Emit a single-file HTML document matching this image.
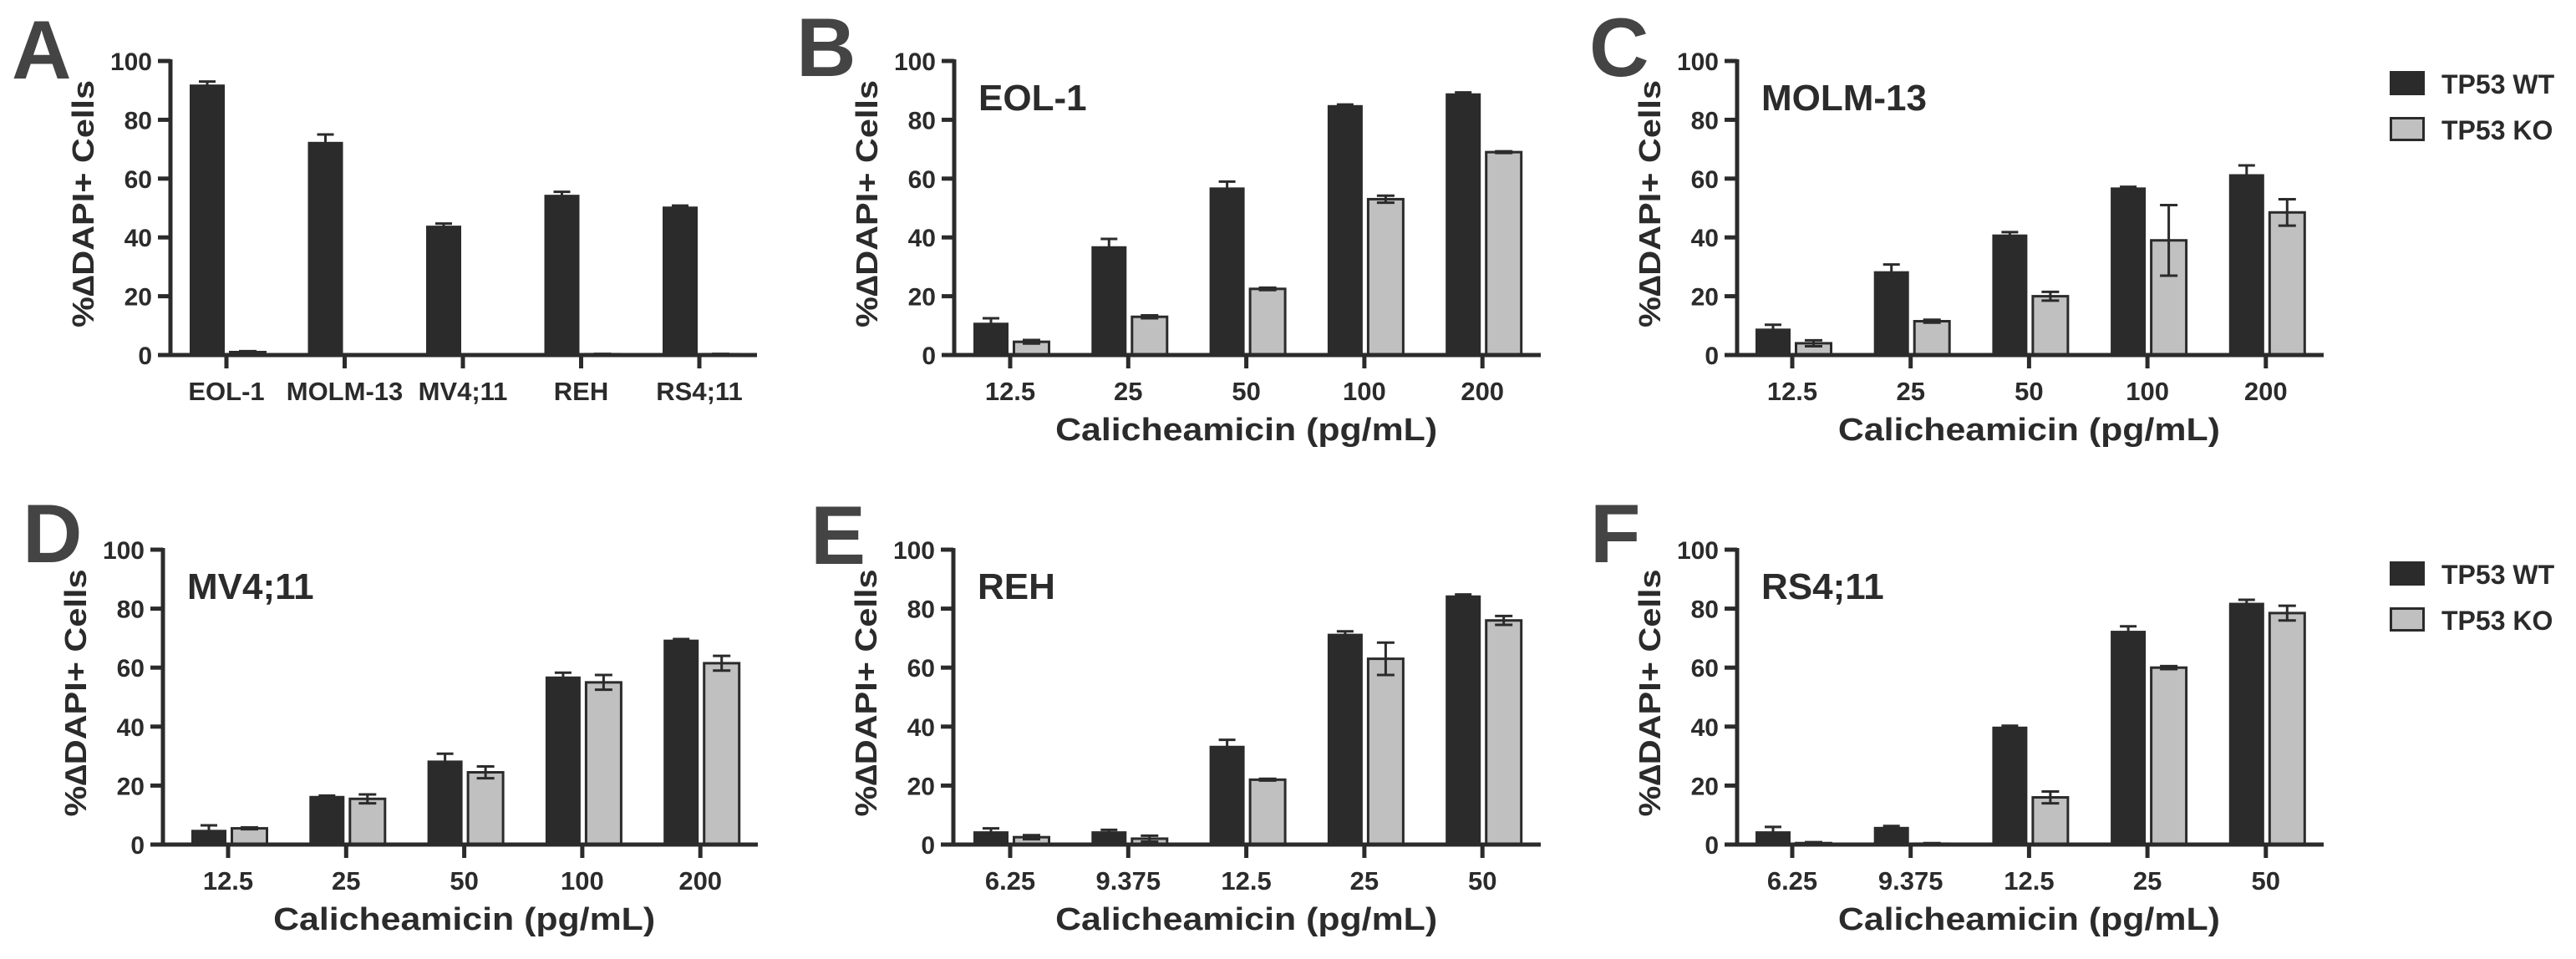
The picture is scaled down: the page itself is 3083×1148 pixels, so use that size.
<!DOCTYPE html>
<html><head><meta charset="utf-8"><style>
html,body{margin:0;padding:0;background:#fff;}
svg{display:block;font-family:"Liberation Sans",Arial,sans-serif;font-weight:bold;}
</style></head><body>
<svg id="fig" width="3083" height="1148" viewBox="0 0 3083 1148" xmlns="http://www.w3.org/2000/svg"></svg>
<script>
const yTicks = [0,20,40,60,80,100];
const catsA = ["EOL-1","MOLM-13","MV4;11","REH","RS4;11"];
const wtA = [92,72.5,44,54.5,50.5];
const wtErrA = [1,2.5,0.7,1,0.3];
const koA = [1,0,0,0.3,0.3];
const koErrA = [0.3,0,0,0.1,0.1];
const catsHigh = ["12.5","25","50","100","200"];
const catsLow = ["6.25","9.375","12.5","25","50"];
const wtB = [11,37,57,85,89];
const wtErrB = [1.5,2.5,2,0.2,0.3];
const koB = [4.5,13,22.5,53,69];
const koErrB = [0.6,0.5,0.4,1.2,0.3];
const wtC = [9,28.5,41,57,61.5];
const wtErrC = [1.3,2.3,0.8,0.2,3];
const koC = [4,11.5,20,39,48.5];
const koErrC = [1,0.5,1.5,12,4.5];
const wtD = [5,16.5,28.5,57,69.5];
const wtErrD = [1.5,0.1,2.3,1.3,0.2];
const koD = [5.5,15.5,24.5,55,61.5];
const koErrD = [0.3,1.5,2,2.5,2.5];
const wtE = [4.5,4.5,33.5,71.5,84.5];
const wtErrE = [1,0.5,2,0.8,0.3];
const koE = [2.5,2,22,63,76];
const koErrE = [0.7,1,0.3,5.5,1.5];
const wtF = [4.5,6,40,72.5,82];
const wtErrF = [1.5,0.3,0.3,1.5,1];
const koF = [0.5,0.3,16,60,78.5];
const koErrF = [0.3,0.2,2,0.5,2.5];

const NS = "http://www.w3.org/2000/svg";
const svg = document.getElementById('fig');
const DARK = "#2b2b2b", LIGHT = "#c0c0c0";
function mk(tag, attrs, parent, text){
  const e = document.createElementNS(NS, tag);
  for (const k in attrs) e.setAttribute(k, attrs[k]);
  if (text !== undefined) e.textContent = text;
  (parent || svg).appendChild(e);
  return e;
}

function panel(p){
  const g = mk('g', {});
  
  
  const y = v => p.y0 - (p.y0 - p.y100) * v / 100;
  const x = i => p.tick0 + i * p.step;
  // letter
  const L = mk('text', {x:p.lx, y:p.ly, 'font-size':99, fill:'#444'}, g, p.letter);
  
  
  // bars
  for (let i = 0; i < p.cats.length; i++){
    const cx = x(i);
    const wtTop = y(p.wt[i]);
    const r1 = mk('rect', {x:cx-44, y:wtTop, width:42, height:Math.max(0,p.y0-wtTop), fill:DARK}, g);
    
    
    const e1 = mk('path', {d:`M${cx-23},${y(p.wt[i]+p.wtErr[i])}V${y(p.wt[i]-p.wtErr[i])}M${cx-33},${y(p.wt[i]+p.wtErr[i])}H${cx-13}`, stroke:DARK, 'stroke-width':3, fill:'none'}, g);
    
    
    const koTop = y(p.ko[i]);
    const r2 = mk('rect', {x:cx+4.5, y:koTop, width:42, height:Math.max(0,p.y0-koTop), fill:p.koFill, stroke:DARK, 'stroke-width':3}, g);
    
    
    const eu = y(p.ko[i]+p.koErr[i]), ed = y(p.ko[i]-p.koErr[i]);
    const e2 = mk('path', {d:`M${cx+25.5},${eu}V${ed}M${cx+15},${eu}H${cx+36}M${cx+15},${ed}H${cx+36}`, stroke:DARK, 'stroke-width':3, fill:'none'}, g);
    
    
    // x tick + label
    mk('line', {x1:cx, y1:p.y0, x2:cx, y2:p.y0+16, stroke:DARK, 'stroke-width':5}, g);
    const tl = mk('text', {x:cx, y:p.y0+54, 'font-size':31, 'text-anchor':'middle', fill:DARK}, g, p.cats[i]);
    
    
  }
  // axes
  const ax = mk('path', {d:`M${p.ax},${p.y100-2}V${p.y0}M${p.ax-2},${p.y0}H${p.xEnd}`, stroke:DARK, 'stroke-width':5, fill:'none'}, g);
  
  
  for (const t of yTicks){
    mk('line', {x1:p.ax-15, y1:y(t), x2:p.ax, y2:y(t), stroke:DARK, 'stroke-width':5}, g);
    const yl = mk('text', {x:p.ax-22, y:y(t)+11, 'font-size':30, 'text-anchor':'end', fill:DARK}, g, String(t));
    
    
  }
  const ymid = (p.y0 + p.y100)/2 - 5;
  const yt = mk('text', {x:0, y:0, 'font-size':36, 'text-anchor':'middle', fill:DARK, transform:`translate(${p.ax-92},${ymid}) rotate(-90)`, textLength:296, lengthAdjust:'spacingAndGlyphs'}, g, '%\u2206DAPI+ Cells');
  
  
  if (p.xtitle){
    const xt = mk('text', {x:x(2), y:p.y0+102, 'font-size':38, 'text-anchor':'middle', fill:DARK, textLength:457, lengthAdjust:'spacingAndGlyphs'}, g, 'Calicheamicin (pg/mL)');
    
    
  }
  if (p.title){
    const tt = mk('text', {x:p.ax+29, y:p.y100+59, 'font-size':44, fill:DARK}, g, p.title);
    
    
  }
}

function legend(top){
  const g = mk('g', {});
  
  
  const a = mk('rect', {x:2860, y:top, width:42, height:29, fill:DARK}, g);
  
  
  const t1 = mk('text', {x:2922, y:top+27, 'font-size':32, fill:DARK}, g, 'TP53 WT');
  
  
  const b = mk('rect', {x:2861.5, y:top+56.5, width:39, height:26, fill:LIGHT, stroke:DARK, 'stroke-width':3}, g);
  
  
  const t2 = mk('text', {x:2922, y:top+82, 'font-size':32, fill:DARK}, g, 'TP53 KO');
  
  
}

const TOP = {y100:73, y0:425}, BOT = {y100:658, y0:1011};
panel(Object.assign({letter:'A', lx:14, ly:94, ax:204, tick0:271, step:141.5, xEnd:906, cats:catsA, wt:wtA, wtErr:wtErrA, ko:koA, koErr:koErrA, koFill:DARK, xtitle:false}, TOP));
panel(Object.assign({letter:'B', lx:953, ly:91, ax:1142, tick0:1209, step:141.3, xEnd:1844, cats:catsHigh, wt:wtB, wtErr:wtErrB, ko:koB, koErr:koErrB, koFill:LIGHT, xtitle:true, title:'EOL-1'}, TOP));
panel(Object.assign({letter:'C', lx:1902, ly:91, ax:2079, tick0:2145, step:141.7, xEnd:2781, cats:catsHigh, wt:wtC, wtErr:wtErrC, ko:koC, koErr:koErrC, koFill:LIGHT, xtitle:true, title:'MOLM-13'}, TOP));
panel(Object.assign({letter:'D', lx:27, ly:673, ax:195, tick0:273, step:141.3, xEnd:907, cats:catsHigh, wt:wtD, wtErr:wtErrD, ko:koD, koErr:koErrD, koFill:LIGHT, xtitle:true, title:'MV4;11'}, BOT));
panel(Object.assign({letter:'E', lx:970, ly:675, ax:1141, tick0:1209, step:141.3, xEnd:1844, cats:catsLow, wt:wtE, wtErr:wtErrE, ko:koE, koErr:koErrE, koFill:LIGHT, xtitle:true, title:'REH'}, BOT));
panel(Object.assign({letter:'F', lx:1903, ly:673, ax:2079, tick0:2145, step:141.7, xEnd:2781, cats:catsLow, wt:wtF, wtErr:wtErrF, ko:koF, koErr:koErrF, koFill:LIGHT, xtitle:true, title:'RS4;11'}, BOT));
legend(85);
legend(672);
</script>
</body></html>
